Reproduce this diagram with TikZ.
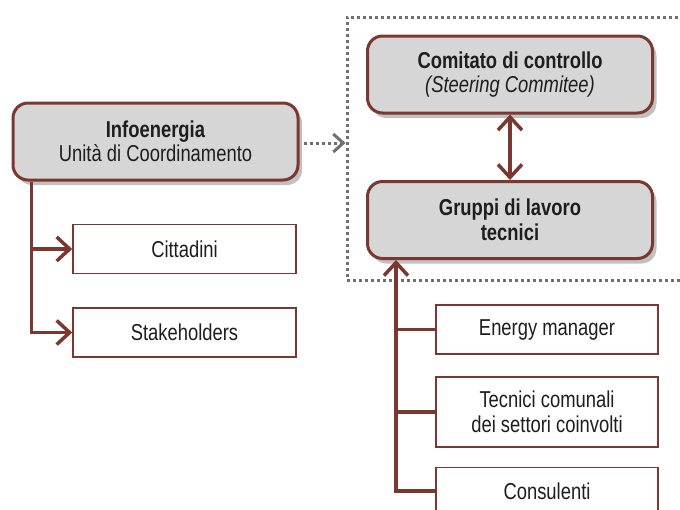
\documentclass[tikz,border=0pt]{standalone}
\usepackage{fontspec}
\setmainfont{Liberation Sans}[FakeStretch=0.8]
\definecolor{orgbrown}{RGB}{122,56,48}
\definecolor{orggray}{RGB}{214,214,214}
\definecolor{orgdots}{RGB}{112,112,112}
\definecolor{orgtext}{RGB}{30,30,30}
\usetikzlibrary{arrows.meta,positioning,shadows}

\begin{document}
\begin{tikzpicture}[x=1pt, y={(0,-1pt)},
    font=\fontsize{23}{24.5}\selectfont, text=orgtext,
    group/.style={rectangle, rounded corners=15pt, minimum width=285pt, minimum height=77pt,
      draw=orgbrown, line width=3pt, fill=orggray, align=center,
      drop shadow={shadow xshift=4pt, shadow yshift=-5pt, opacity=0.35, fill=black!70}},
    member/.style={rectangle, minimum width=222pt, minimum height=49pt,
      draw=orgbrown, line width=1.5pt, fill=white, align=center},
    link/.style={orgbrown, line width=3.5pt},
    tip/.style={-{Straight Barb[length=13pt, width=24pt, line width=3.5pt]}},
    dotlink/.style={orgdots, line width=3pt, dash pattern=on 3pt off 3pt,
      -{Straight Barb[length=10pt, width=18pt, line width=3pt]}}
  ]
    \useasboundingbox (0,0) rectangle (680,509);

    % Dotted frame round the technical structure
    \node[draw=orgdots, line width=3pt, dash pattern=on 3pt off 3pt,
      minimum width=373pt, minimum height=263pt] (frame) at (533.5,148.5) {};

    % Main boxes
    \node[group] (info)  at (155.5,141.5) {\textbf{Infoenergia}\\Unità di Coordinamento};
    \node[group] (comit) at (510,74.5)    {\textbf{Comitato di controllo}\\\textit{(Steering Commitee)}};
    \node[group] (grup)  at (510,220)     {\textbf{Gruppi di lavoro}\\\textbf{tecnici}};

    % Left targets
    \node[member, minimum width=223pt] (citt)  at (184.5,249)   {Cittadini};
    \node[member, minimum width=223pt] (stake) at (184.5,332.5) {Stakeholders};

    % Right members
    \node[member] (energy) at (547,329.5) {Energy manager};
    \node[member, minimum height=70pt] (tecn) at (547,412) {Tecnici comunali\\dei settori coinvolti};
    \node[member, minimum height=47pt] (cons) at (547,491) {Consulenti};

    % Connectors
    \draw[dotlink, shorten <=4pt] ([yshift=-1.5pt]info.east) -- ([yshift=-1.5pt]info.east -| frame.west);
    \draw[link, {Straight Barb[length=13pt, width=24pt, line width=3.5pt]}-{Straight Barb[length=13pt, width=24pt, line width=3.5pt]}]
      (comit) -- (grup);

    \coordinate (lbus) at ([xshift=20pt]info.south west);
    \draw[link, tip] (lbus) |- (citt.west);
    \draw[link, tip] (lbus) |- (stake.west);

    \coordinate (rbus) at ([xshift=30pt]grup.south west);
    \draw[link, tip] (cons.west) -| (rbus);
    \draw[link] (energy.west) -- (energy.west -| rbus);
    \draw[link] (tecn.west) -- (tecn.west -| rbus);
  \end{tikzpicture}
\end{document}
